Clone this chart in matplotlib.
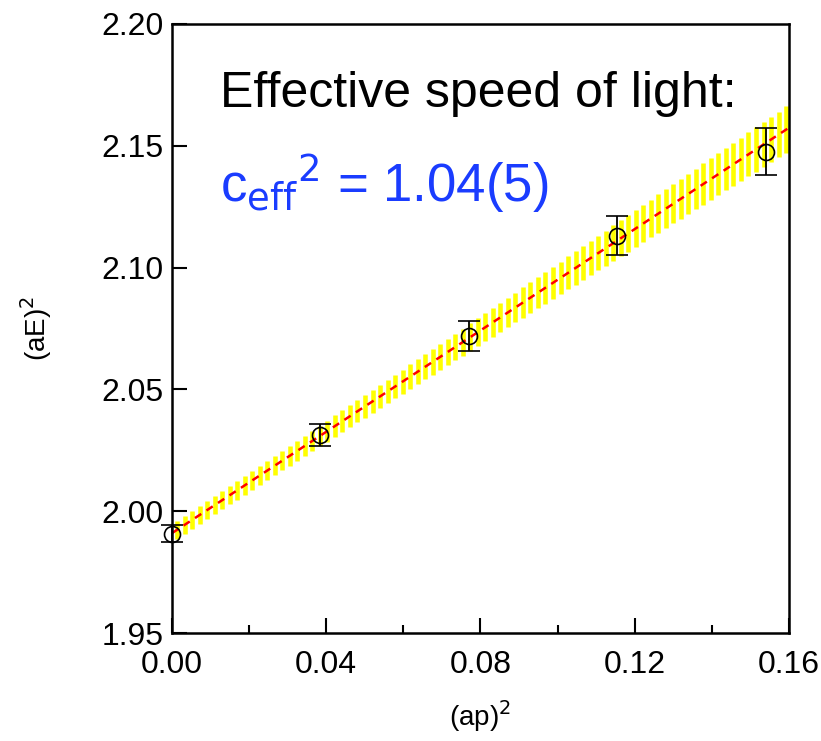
import numpy as np
import matplotlib.pyplot as plt

# data points
ap2 = [0.0, 0.0385, 0.077, 0.1155, 0.154]
aE2 = [1.9908, 2.0313, 2.0720, 2.1130, 2.1476]
aE2_err = [0.0035, 0.0045, 0.0062, 0.0080, 0.0095]

# linear fit (aE)^2 = E0 + c_eff^2 (ap)^2
fit_E0 = 1.991
fit_E0_err = 0.0037
fit_c2 = 1.04
fit_c2_err = 0.055

plt.rcParams["font.family"] = ["Liberation Sans", "DejaVu Sans"]

fig = plt.figure(figsize=(8.21, 7.41), dpi=100)
ax = fig.add_axes([0.2095, 0.1457, 0.7515, 0.822])

# hatched error band (vertical yellow strokes)
xb = np.arange(0.0013, 0.16, 0.00195)
yb = fit_E0 + fit_c2 * xb
db = np.sqrt(fit_E0_err**2 + (fit_c2_err * xb) ** 2)
ax.vlines(xb, yb - db, yb + db, color="#ffff00", linewidth=3.3, zorder=1)

# fit line
xl = np.array([0.0, 0.16])
ax.plot(xl, fit_E0 + fit_c2 * xl, color="#ff0000", linestyle=(0, (3, 2.5)),
        linewidth=1.8, zorder=2)

# data
ax.errorbar(ap2, aE2, yerr=aE2_err, fmt="o", mfc="none", mec="black",
            ms=11.5, mew=1.2, ecolor="black", elinewidth=1.3, capsize=8,
            capthick=1.3, zorder=3, clip_on=False)

ax.set_xlim(0.0, 0.16)
ax.set_ylim(1.95, 2.20)
ax.set_xticks([0.0, 0.04, 0.08, 0.12, 0.16])
ax.set_xticks([0.02, 0.06, 0.10, 0.14], minor=True)
ax.set_yticks([1.95, 2.00, 2.05, 2.10, 2.15, 2.20])
ax.set_xticklabels(["0.00", "0.04", "0.08", "0.12", "0.16"])
ax.set_yticklabels(["1.95", "2.00", "2.05", "2.10", "2.15", "2.20"])
ax.tick_params(axis="both", which="major", direction="in", length=11, width=1.5,
               labelsize=23)
ax.tick_params(axis="y", which="major", pad=6)
ax.tick_params(axis="x", which="major", pad=12)
ax.tick_params(axis="x", which="minor", direction="in", length=6, width=1.5)
for s in ax.spines.values():
    s.set_linewidth(1.8)

ax.set_xlabel("(ap)$^2$", fontsize=20, labelpad=13)
ax.set_ylabel("(aE)$^2$", fontsize=20, labelpad=34)

ax.text(0.078, 0.885, "Effective speed of light:", transform=ax.transAxes,
        fontsize=36, color="black", va="center")
ax.text(0.078, 0.738, "c$_{\\mathrm{eff}}$$^2$ = 1.04(5)", transform=ax.transAxes,
        fontsize=38, color="#1a3cff", va="center")

fig.savefig("out.png", dpi=100)
